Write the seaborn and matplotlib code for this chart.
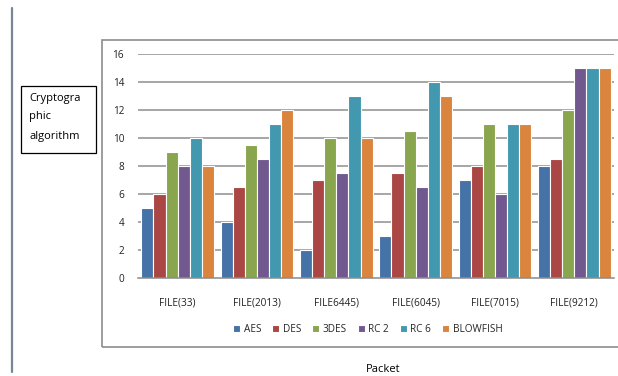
import matplotlib
matplotlib.use("Agg")
import matplotlib.pyplot as plt
import seaborn as sns
import pandas as pd
from matplotlib.patches import Rectangle
from matplotlib.lines import Line2D

categories = ["FILE(33)", "FILE(2013)", "FILE6445)", "FILE(6045)", "FILE(7015)", "FILE(9212)"]
algorithms = ["AES", "DES", "3DES", "RC 2", "RC 6", "BLOWFISH"]
aes = [5, 4, 2, 3, 7, 8]
des = [6, 6.5, 7, 7.5, 8, 8.5]
tdes = [9, 9.5, 10, 10.5, 11, 12]
rc2 = [8, 8.5, 7.5, 6.5, 6, 15]
rc6 = [10, 11, 13, 14, 11, 15]
blowfish = [8, 12, 10, 13, 11, 15]
colors = ["#4572A7", "#AA4643", "#89A54E", "#71588F", "#4198AF", "#DB843D"]

rows = []
for alg, vals in zip(algorithms, [aes, des, tdes, rc2, rc6, blowfish]):
    for c, v in zip(categories, vals):
        rows.append({"file": c, "alg": alg, "value": v})
df = pd.DataFrame(rows)

sns.set_theme(style="white")
plt.rcParams['font.family'] = ['Open Sans', 'DejaVu Sans']

fig = plt.figure(figsize=(6.18, 3.76), dpi=100)
W, H = 618, 376

def fx(x):
    return x / W
def fy(y):
    return 1 - y / H

# outer chart box (right edge falls outside the image)
fig.patches.append(Rectangle((fx(102), fy(347)), fx(640) - fx(102), fy(40) - fy(347),
                             transform=fig.transFigure, fill=False, edgecolor="#8c8c8c", linewidth=1.2))
# left vertical line
fig.lines.append(Line2D([fx(12), fx(12)], [fy(8), fy(372)], transform=fig.transFigure,
                        color="#7a8599", linewidth=1.6))
# label box
fig.patches.append(Rectangle((fx(21), fy(153)), fx(96) - fx(21), fy(86) - fy(153),
                             transform=fig.transFigure, fill=False, edgecolor="black", linewidth=0.9))
fig.text(fx(29), fy(98), "Cryptogra", fontsize=8, va="center", ha="left", color="black")
fig.text(fx(29), fy(117), "phic", fontsize=8, va="center", ha="left", color="black")
fig.text(fx(29), fy(136), "algorithm", fontsize=8, va="center", ha="left", color="black")
fig.text(fx(383), fy(369), "Packet", fontsize=8, va="center", ha="center", color="black")

ax = fig.add_axes([fx(138), fy(278), fx(614) - fx(138), fy(54) - fy(278)])
sns.barplot(data=df, x="file", y="value", hue="alg", palette=colors, width=0.92,
            edgecolor="white", linewidth=0.8, saturation=1, ax=ax, legend=True)
ax.set_ylim(0, 16)
ax.set_yticks(range(0, 17, 2))
ax.set_xlim(-0.5, 5.5)
for y in range(2, 17, 2):
    ax.axhline(y, color="#8e8e8e", linewidth=1.1, zorder=0)
ax.set_axisbelow(True)
for s in ["top", "right", "left"]:
    ax.spines[s].set_visible(False)
ax.spines["bottom"].set_color("#8a8a8a")
ax.spines["bottom"].set_linewidth(1.1)
ax.tick_params(axis="both", length=0, labelsize=7.2, colors="#222222")
ax.tick_params(axis="x", pad=14)
ax.tick_params(axis="y", pad=10)
ax.set_xlabel("")
ax.set_ylabel("")
ax.set_facecolor("none")

handles, labels = ax.get_legend_handles_labels()
ax.legend(handles, labels, loc="center", bbox_to_anchor=((fx(368) - fx(138)) / (fx(614) - fx(138)),
                                                         (fy(329) - fy(278)) / (fy(54) - fy(278))),
          ncol=6, frameon=False, fontsize=7.2, handlelength=0.7, handleheight=0.7,
          handletextpad=0.35, columnspacing=1.1)

fig.savefig("out.png", dpi=100)
